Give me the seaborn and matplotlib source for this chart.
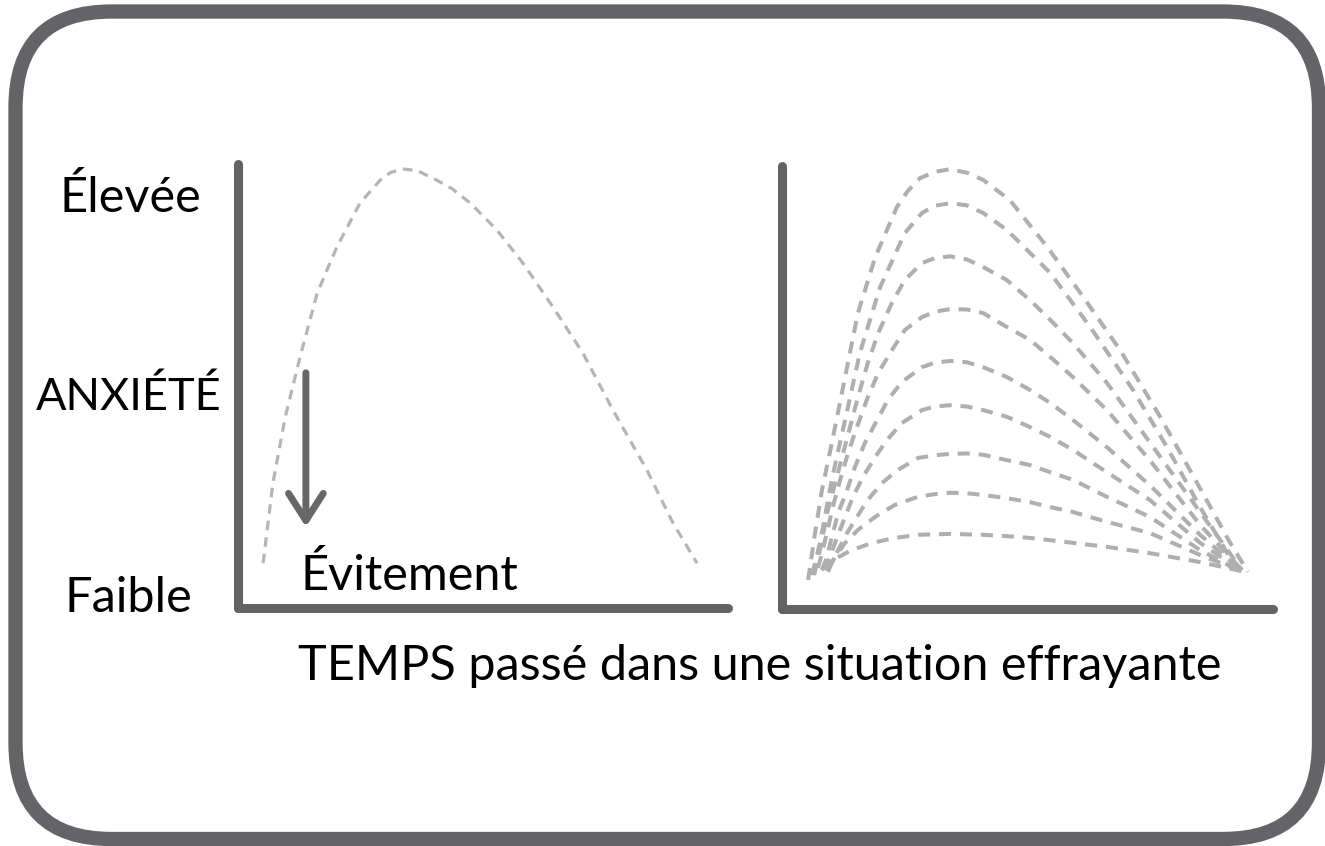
import matplotlib
matplotlib.use("Agg")
import matplotlib.pyplot as plt
import seaborn as sns
import pandas as pd
from matplotlib.patches import FancyBboxPatch, ArrowStyle

# ---------------- data (time 0-100, anxiety 0-100) ----------------
avoid_time = [5.1, 7.1, 9.6, 12.6, 16.1, 20.1, 24.8, 28.9, 31.0, 33.5, 36.5, 40.4,
              43.5, 47.2, 52.6, 57.9, 64.0, 70.1, 76.2, 83.1, 88.4, 93.3]
avoid_anx = [10.0, 27.9, 42.6, 56.0, 70.3, 80.6, 90.4, 95.5, 97.2, 98.0, 97.6, 95.5,
             93.6, 90.4, 84.4, 77.0, 67.2, 56.9, 44.2, 30.8, 19.0, 10.0]

c1_time = [5.3, 6.7, 8.1, 10.1, 12.8, 15.4, 18.9, 23.3, 25.5, 28.0, 31.0, 34.1, 37.5,
           40.8, 46.2, 53.8, 61.1, 68.6, 76.7, 84.2, 90.9, 94.5]
c1_anx = [6.5, 17.0, 26.6, 37.1, 51.9, 66.2, 78.7, 89.9, 93.5, 96.4, 97.8, 98.4, 97.6,
          96.0, 91.5, 81.0, 69.8, 57.9, 43.0, 28.2, 14.8, 8.3]
c2_time = [6.1, 7.7, 10.1, 12.8, 15.8, 19.9, 24.9, 28.4, 31.0, 34.1, 37.5, 40.8, 45.6,
           54.4, 62.5, 71.2, 78.1, 84.8, 91.5, 93.9]
c2_anx = [7.6, 14.8, 28.9, 42.3, 57.3, 72.0, 84.1, 88.6, 90.2, 90.8, 90.3, 88.6, 84.8,
          75.2, 63.1, 49.0, 36.2, 22.8, 10.3, 7.6]
c3_time = [6.5, 7.1, 8.1, 9.3, 10.8, 12.2, 13.8, 15.4, 17.4, 19.5, 22.3, 24.9,
           28.4, 31.0, 34.1, 37.5, 40.8, 45.6, 50.3, 54.4, 59.0, 65.9, 74.6, 84.8, 93.3]
c3_anx = [7.6, 10.3, 15.4, 22.1, 28.2, 34.0, 40.7, 47.4, 55.0, 61.7, 68.5, 73.6,
          77.4, 78.5, 78.9, 78.2, 76.5, 73.6, 69.1, 64.7, 59.5, 50.6, 37.3, 21.7, 8.7]
c4_time = [7.3, 8.1, 9.1, 10.3, 11.8, 13.4, 15.2, 17.2, 19.5, 22.3, 24.9, 28.4,
           31.0, 34.1, 37.5, 40.8, 45.6, 50.3, 54.4, 59.0, 65.9, 74.6, 84.8, 93.5]
c4_anx = [9.2, 12.5, 17.0, 22.8, 28.9, 34.9, 40.7, 46.8, 52.8, 57.9, 62.4, 65.3,
          66.5, 67.1, 67.0, 66.2, 63.1, 60.2, 56.4, 51.9, 44.5, 33.3, 18.8, 8.5]
c5_time = [8.1, 9.1, 10.1, 11.4, 13.2, 14.8, 16.8, 19.3, 21.5, 24.3, 28.4, 31.0, 34.1,
           37.5, 40.8, 45.6, 50.3, 54.4, 59.0, 65.9, 74.6, 84.8, 93.5]
c5_anx = [8.7, 11.6, 16.1, 21.5, 26.6, 31.8, 37.1, 42.3, 46.8, 50.8, 54.1, 55.1, 55.5,
          55.2, 54.1, 51.9, 49.0, 46.1, 42.3, 36.2, 27.7, 16.6, 8.3]
c6_time = [8.7, 9.7, 11.2, 12.8, 14.4, 16.4, 18.9, 21.3, 24.3, 28.4, 31.0, 34.1, 37.5,
           40.8, 45.6, 50.3, 54.4, 59.0, 65.9, 74.6, 84.8, 93.5]
c6_anx = [8.7, 11.6, 16.1, 20.6, 25.1, 29.5, 34.0, 37.8, 41.6, 44.5, 45.3, 45.6, 45.3,
          44.5, 43.0, 40.7, 38.5, 35.6, 30.6, 24.4, 14.8, 8.3]
c7_time = [9.3, 10.1, 11.4, 13.2, 15.2, 17.4, 20.3, 23.5, 27.6, 31.0, 34.1, 37.5, 40.8,
           45.6, 50.3, 54.4, 59.0, 65.9, 74.6, 84.8, 93.5]
c7_anx = [8.3, 10.3, 13.2, 17.0, 20.6, 24.4, 28.2, 31.1, 33.8, 34.4, 34.7, 34.8, 34.5,
          33.3, 32.2, 30.6, 28.9, 25.1, 20.6, 13.2, 8.1]
c8_time = [9.3, 10.8, 12.8, 15.4, 18.9, 22.9, 27.6, 31.0, 34.1, 37.5, 40.8, 45.6,
           50.3, 54.4, 59.0, 65.9, 74.6, 84.8, 93.5]
c8_anx = [9.2, 11.6, 14.8, 17.7, 20.6, 23.3, 25.1, 25.7, 26.0, 25.9, 25.5, 24.8,
          23.9, 22.8, 21.7, 19.5, 17.0, 12.1, 8.3]
c9_time = [8.1, 9.3, 11.4, 14.2, 18.3, 22.9, 27.6, 34.1, 40.8, 45.6, 50.3, 54.4,
           59.0, 65.9, 74.6, 84.8, 93.9]
c9_anx = [8.7, 10.3, 11.6, 13.2, 14.8, 15.9, 16.6, 16.8, 16.6, 16.3, 15.9, 15.4,
          14.8, 13.9, 12.5, 10.5, 8.3]

exposure_times = [c1_time, c2_time, c3_time, c4_time, c5_time, c6_time, c7_time, c8_time, c9_time]
exposure_anx = [c1_anx, c2_anx, c3_anx, c4_anx, c5_anx, c6_anx, c7_anx, c8_anx, c9_anx]

# arrow (avoidance): time position, from / to anxiety level
arrow_time = 13.8
arrow_from = 52.5
arrow_to = 18.1

label_high = "Élevée"
label_axis_y = "ANXIÉTÉ"
label_low = "Faible"
label_avoid = "Évitement"
label_axis_x = "TEMPS passé dans une situation effrayante"

# ---------------- style ----------------
sns.set_theme(style="white")
plt.rcParams["font.family"] = ["Lato", "DejaVu Sans"]

AXIS_COL = "#636366"
CURVE_COL = "#afafaf"
W, H = 1325, 846

fig = plt.figure(figsize=(W / 100, H / 100), dpi=100)
fig.patch.set_facecolor("white")

# background overlay in pixel units
bg = fig.add_axes([0, 0, 1, 1], zorder=0)
bg.set_xlim(0, W)
bg.set_ylim(H, 0)
bg.axis("off")
frame = FancyBboxPatch((15.5, 11.5), 1319 - 15.5, 839 - 11.5,
                       boxstyle="round,pad=0,rounding_size=96",
                       fc="none", ec="#646468", lw=10.3)
bg.add_patch(frame)


def panel(x0, x1, y_bottom, y_top):
    ax = fig.add_axes([x0 / W, 1 - y_bottom / H, (x1 - x0) / W, (y_bottom - y_top) / H],
                      zorder=2)
    ax.patch.set_alpha(0)
    ax.set_xlim(0, 100)
    ax.set_ylim(0, 100)
    sns.despine(ax=ax)
    for s in ("left", "bottom"):
        ax.spines[s].set_color(AXIS_COL)
        ax.spines[s].set_linewidth(6.5)
        ax.spines[s].set_capstyle("round")
    ax.spines["left"].set_bounds(0, 99.0)
    ax.spines["bottom"].set_bounds(0, 99.6)
    ax.set_xticks([])
    ax.set_yticks([])
    return ax


ax_l = panel(238, 730, 608, 160)
ax_r = panel(782, 1275, 609, 162)

dash = (0, (3.0, 2.2))

df_avoid = pd.DataFrame({"temps": avoid_time, "anxiete": avoid_anx})
sns.lineplot(data=df_avoid, x="temps", y="anxiete", ax=ax_l, color="#b5b5b5",
             lw=2.3, linestyle=dash, estimator=None, sort=False)

rows = []
for i, (tt, aa) in enumerate(zip(exposure_times, exposure_anx)):
    for t, a in zip(tt, aa):
        rows.append({"courbe": i, "temps": t, "anxiete": a})
df_exp = pd.DataFrame(rows)
sns.lineplot(data=df_exp, x="temps", y="anxiete", hue="courbe",
             palette=[CURVE_COL] * len(exposure_times), ax=ax_r, lw=2.9,
             linestyle=dash, estimator=None, sort=False, legend=False)

for ax in (ax_l, ax_r):
    ax.set_xlabel("")
    ax.set_ylabel("")

ax_l.annotate("", xy=(arrow_time, arrow_to), xytext=(arrow_time, arrow_from),
              arrowprops=dict(arrowstyle=ArrowStyle("->", head_length=1.95, head_width=1.25),
                              mutation_scale=10, color="#67676a", lw=5.0,
                              shrinkA=0, shrinkB=0, joinstyle="round", capstyle="round"))

fs = 35
bg.text(130, 212, label_high, ha="center", va="baseline", fontsize=fs, color="black")
bg.text(129, 410, label_axis_y, ha="center", va="baseline", fontsize=32.5, color="black")
bg.text(128.5, 612, label_low, ha="center", va="baseline", fontsize=fs, color="black")
bg.text(409.5, 590, label_avoid, ha="center", va="baseline", fontsize=fs, color="black")
bg.text(759.5, 680, label_axis_x, ha="center", va="baseline", fontsize=fs, color="black")

fig.savefig("out.png", dpi=100, facecolor="white")
